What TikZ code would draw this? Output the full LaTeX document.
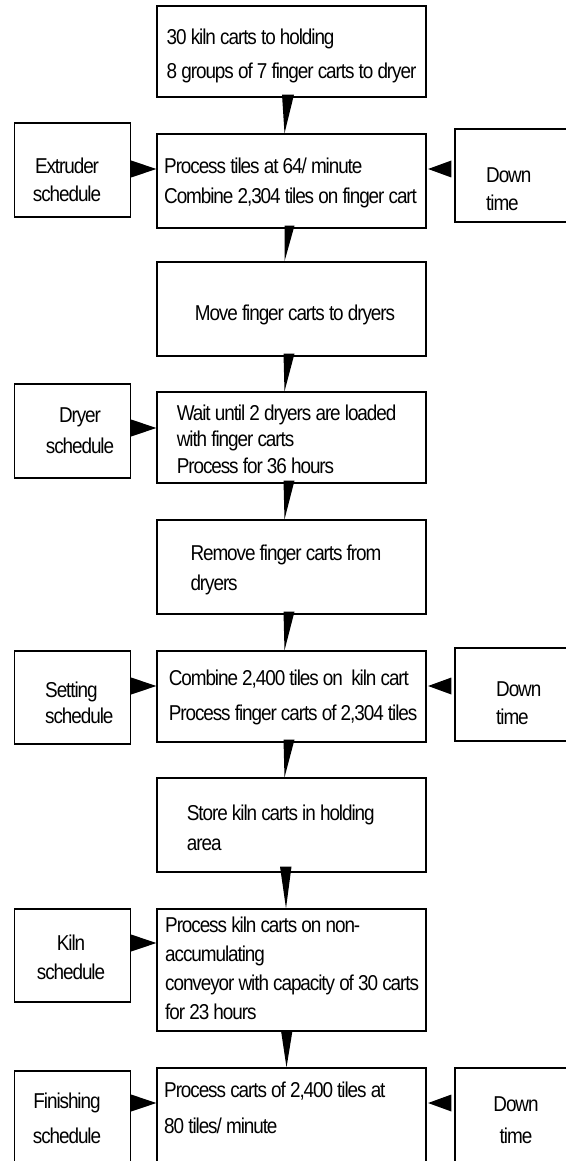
\documentclass[tikz,border=0pt]{standalone}
\usepackage{fontspec}
\setmainfont[FakeStretch=0.88,LetterSpace=-5]{Liberation Sans}
\begin{document}
\begin{tikzpicture}[x=1pt,y=-1pt,
  box/.style={draw,line width=1.2pt,inner sep=0pt,rectangle},
  lbox/.style={box,minimum width=116pt},
  mbox/.style={box,minimum width=269pt},
  rbox/.style={box,minimum width=125pt},
  txt/.style={inner sep=0pt,align=left,anchor=base west,font=\fontsize{21.5}{#1}\selectfont},
  ctxt/.style={inner sep=0pt,align=center,anchor=base,font=\fontsize{21.5}{#1}\selectfont},
  wedge/.style={fill=black}]
\useasboundingbox (0,0) rectangle (565,1161);
% main column
\node[mbox,minimum height=91pt] (A) at (291.5,51.5) {};
\node[mbox,minimum height=94pt] (B) at (291.5,181) {};
\node[mbox,minimum height=94pt] (C) at (291.5,309) {};
\node[mbox,minimum height=91pt] (D) at (291.5,437.5) {};
\node[mbox,minimum height=94pt] (E) at (291.5,567) {};
\node[mbox,minimum height=91pt] (F) at (291.5,696.5) {};
\node[mbox,minimum height=94pt] (G) at (291.5,825) {};
\node[mbox,minimum height=122pt] (H) at (291.5,970) {};
\node[mbox,minimum height=100pt] (I) at (291.5,1118) {};
% left column
\node[lbox,minimum height=94pt] (L1) at (72.5,170) {};
\node[lbox,minimum height=94pt] (L2) at (72.5,431) {};
\node[lbox,minimum height=93pt] (L3) at (72.5,697.5) {};
\node[lbox,minimum height=93pt] (L4) at (72.5,955.5) {};
\node[lbox,minimum height=97pt] (L5) at (72.5,1119.5) {};
% right column
\node[rbox,minimum height=93pt] (R1) at (517.5,175.5) {};
\node[rbox,minimum height=93pt] (R2) at (517.5,694.5) {};
\node[rbox,minimum height=100pt] (R3) at (517.5,1118) {};
% texts (anchor = baseline of the last line)
\node[txt=34] (tA) at (166.5,79) {30 kiln carts to holding\\8 groups of 7 finger carts to dryer};
\node[txt=30] (tB) at (164,204) {Process tiles at 64/ minute\\Combine 2,304 tiles on finger cart};
\node[txt=30] (tC) at (194.6,320) {Move finger carts to dryers};
\node[txt=26.5] (tD) at (176.6,473) {Wait until 2 dryers are loaded\\with finger carts\\Process for 36 hours};
\node[txt=30] (tE) at (190.3,590) {Remove finger carts from\\dryers};
\node[txt=35] (tF) at (168.6,720) {Combine 2,400 tiles on \ kiln cart\\Process finger carts of 2,304 tiles};
\node[txt=30] (tG) at (186.7,850) {Store kiln carts in holding\\area};
\node[txt=29] (tH) at (165,1019) {Process kiln carts on non-\\accumulating\\conveyor with capacity of 30 carts\\for 23 hours};
\node[txt=36] (tI) at (164,1133) {Process carts of 2,400 tiles at\\80 tiles/ minute};
\node[ctxt=28] (tL1) at (67,201) {Extruder\\schedule};
\node[ctxt=31] (tL2) at (80,453) {Dryer\\schedule};
\node[txt=26] (tL3) at (45,723) {Setting\\schedule};
\node[ctxt=29] (tL4) at (71,979) {Kiln\\schedule};
\node[ctxt=35] (tL5) at (67,1143) {Finishing\\schedule};
\node[txt=28] (tR1) at (486,210) {Down\\time};
\node[txt=28] (tR2) at (496,724) {Down\\time};
\node[ctxt=32] (tR3) at (516,1143) {Down\\time};
% vertical wedges
\fill[wedge] ([xshift=-9.5pt,yshift=3pt]A.south) -- ([xshift=2.5pt,yshift=3pt]A.south) -- ([xshift=-7pt]B.north) -- cycle;
\fill[wedge] ([xshift=-7pt,yshift=3pt]B.south) -- ([xshift=3pt,yshift=3pt]B.south) -- ([xshift=-7pt]C.north) -- cycle;
\fill[wedge] ([xshift=-8pt,yshift=3pt]C.south) -- ([xshift=3pt,yshift=3pt]C.south) -- ([xshift=-7pt]D.north) -- cycle;
\fill[wedge] ([xshift=-8pt,yshift=3pt]D.south) -- ([xshift=3pt,yshift=3pt]D.south) -- ([xshift=-7pt]E.north) -- cycle;
\fill[wedge] ([xshift=-8pt,yshift=3pt]E.south) -- ([xshift=3pt,yshift=3pt]E.south) -- ([xshift=-7pt]F.north) -- cycle;
\fill[wedge] ([xshift=-8pt,yshift=3pt]F.south) -- ([xshift=3pt,yshift=3pt]F.south) -- ([xshift=-7pt]G.north) -- cycle;
\fill[wedge] ([xshift=-11.5pt,yshift=6pt]G.south) -- ([xshift=0pt,yshift=6pt]G.south) -- ([xshift=-5.5pt]H.north) -- cycle;
\fill[wedge] ([xshift=-10.5pt,yshift=1pt]H.south) -- ([xshift=1pt,yshift=1pt]H.south) -- ([xshift=-5pt]I.north) -- cycle;
% side wedges
\fill[wedge] (L1.east |- 0,160.5) -- (L1.east |- 0,177.5) -- (B.west |- 0,169) -- cycle;
\fill[wedge] (L2.east |- 0,419.5) -- (L2.east |- 0,436.5) -- (D.west |- 0,428) -- cycle;
\fill[wedge] (L3.east |- 0,677.5) -- (L3.east |- 0,694.5) -- (F.west |- 0,686) -- cycle;
\fill[wedge] (L4.east |- 0,934.5) -- (L4.east |- 0,951.5) -- (H.west |- 0,943) -- cycle;
\fill[wedge] (L5.east |- 0,1094.5) -- (L5.east |- 0,1111.5) -- (I.west |- 0,1103) -- cycle;
\fill[wedge] ([xshift=-3pt]R1.west |- 0,160.5) -- ([xshift=-3pt]R1.west |- 0,177.5) -- ([xshift=1.5pt]B.east |- 0,169) -- cycle;
\fill[wedge] ([xshift=-3pt]R2.west |- 0,677.5) -- ([xshift=-3pt]R2.west |- 0,694.5) -- ([xshift=1.5pt]F.east |- 0,686) -- cycle;
\fill[wedge] ([xshift=-3pt]R3.west |- 0,1094.5) -- ([xshift=-3pt]R3.west |- 0,1111.5) -- ([xshift=1.5pt]I.east |- 0,1103) -- cycle;
\end{tikzpicture}
\end{document}
